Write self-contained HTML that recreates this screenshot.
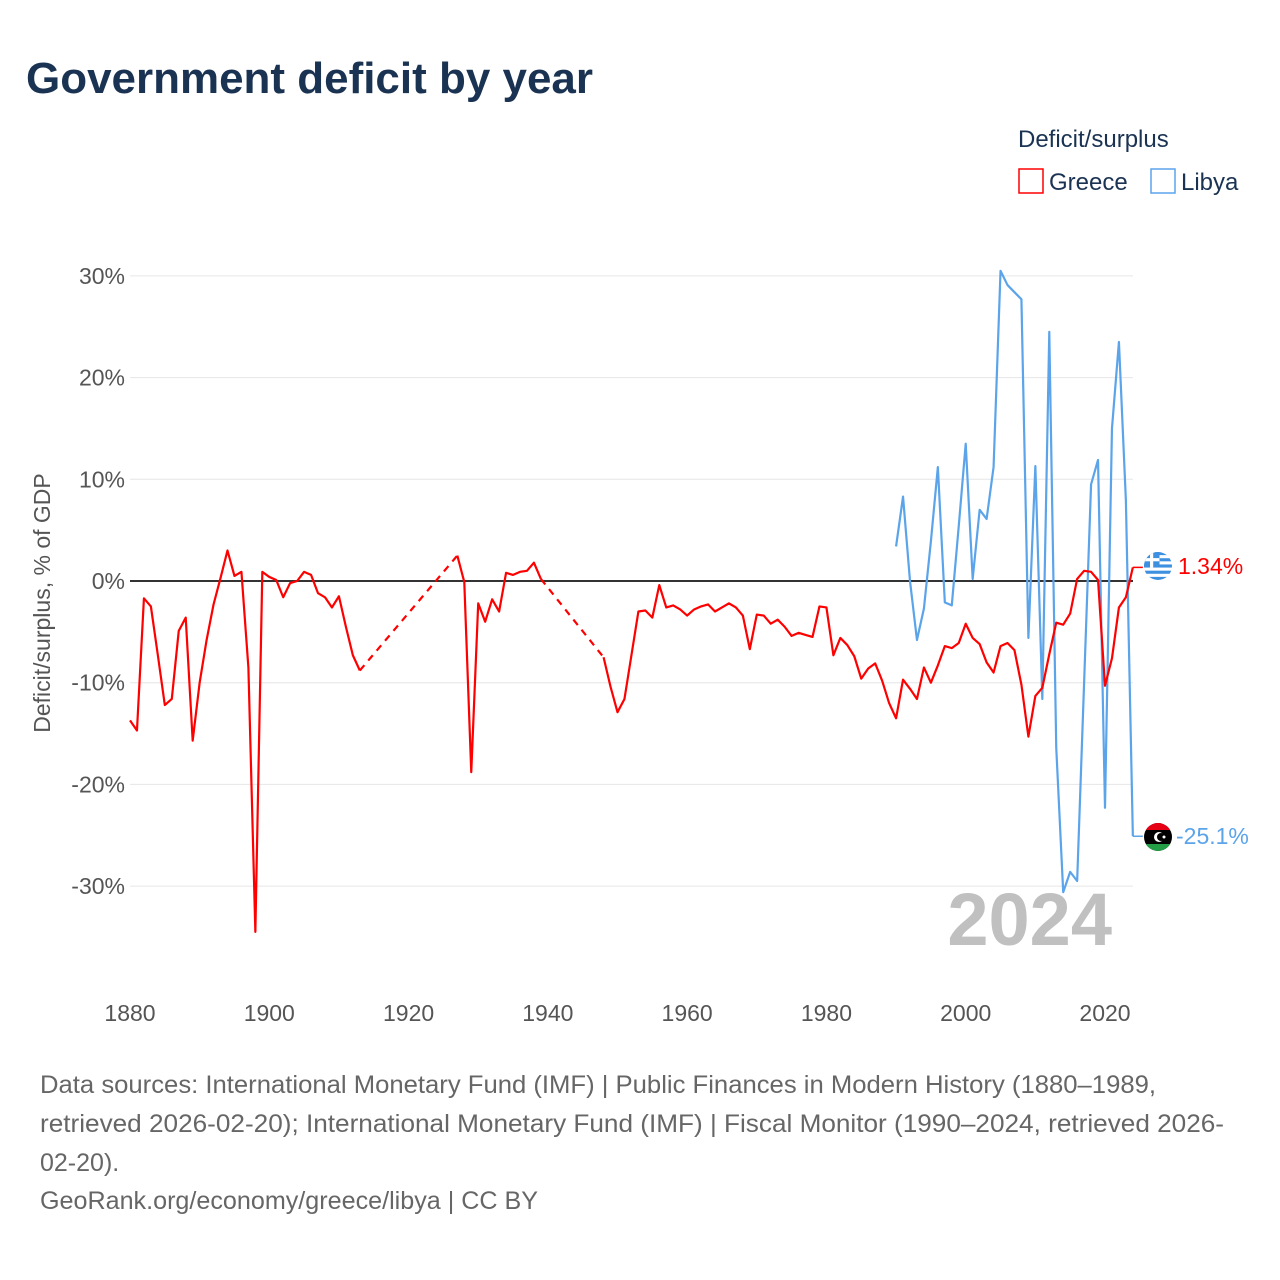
<!DOCTYPE html>
<html><head><meta charset="utf-8"><style>
body{margin:0;background:#fff;font-family:"Liberation Sans",sans-serif;}
#wrap{position:relative;width:1280px;height:1280px;overflow:hidden;}
</style></head><body>
<div id="wrap">
<svg id="svg" width="1280" height="1280" xmlns="http://www.w3.org/2000/svg">
<defs>
<clipPath id="cg"><circle cx="1158" cy="566" r="14"/></clipPath>
<clipPath id="cl"><circle cx="1158" cy="837" r="14"/></clipPath>
</defs>
<text x="26" y="93" font-size="44" font-weight="bold" fill="#1b3352" textLength="567" lengthAdjust="spacingAndGlyphs">Government deficit by year</text>
<text x="1018" y="147" font-size="24" fill="#1b3352">Deficit/surplus</text>
<g><rect x="1019" y="169" width="24" height="24" fill="none" stroke="#ff0000" stroke-width="1.5"/><text x="1049" y="190" font-size="24" fill="#1b3352">Greece</text></g>
<g><rect x="1151" y="169" width="24" height="24" fill="none" stroke="#5ba4ea" stroke-width="1.5"/><text x="1181" y="190" font-size="24" fill="#1b3352">Libya</text></g>
<text transform="translate(50,603) rotate(-90)" text-anchor="middle" font-size="23" fill="#555">Deficit/surplus, % of GDP</text>
<g id="grid"></g><g id="yt"></g><g id="xt"></g>
<text x="1112" y="945" text-anchor="end" font-size="74" font-weight="bold" fill="#c0c0c0">2024</text>
<g id="series"></g>
<g font-size="25" fill="#666">
<text x="40" y="1093" textLength="1116" lengthAdjust="spacingAndGlyphs">Data sources: International Monetary Fund (IMF) | Public Finances in Modern History (1880–1989,</text>
<text x="40" y="1132" textLength="1184" lengthAdjust="spacingAndGlyphs">retrieved 2026-02-20); International Monetary Fund (IMF) | Fiscal Monitor (1990–2024, retrieved 2026-</text>
<text x="40" y="1171">02-20).</text>
<text x="40" y="1209" textLength="498" lengthAdjust="spacingAndGlyphs">GeoRank.org/economy/greece/libya | CC BY</text>
</g>
</svg></div>
<script>
const greeceYears=[1880,1881,1882,1883,1884,1885,1886,1887,1888,1889,1890,1891,1892,1893,1894,1895,1896,1897,1898,1899,1900,1901,1902,1903,1904,1905,1906,1907,1908,1909,1910,1911,1912,1913,1927,1928,1929,1930,1931,1932,1933,1934,1935,1936,1937,1938,1939,1948,1949,1950,1951,1952,1953,1954,1955,1956,1957,1958,1959,1960,1961,1962,1963,1964,1965,1966,1967,1968,1969,1970,1971,1972,1973,1974,1975,1976,1977,1978,1979,1980,1981,1982,1983,1984,1985,1986,1987,1988,1989,1990,1991,1992,1993,1994,1995,1996,1997,1998,1999,2000,2001,2002,2003,2004,2005,2006,2007,2008,2009,2010,2011,2012,2013,2014,2015,2016,2017,2018,2019,2020,2021,2022,2023,2024];
const greeceValues=[-13.7,-14.7,-1.7,-2.5,-7.3,-12.2,-11.6,-4.9,-3.6,-15.7,-10,-5.8,-2.3,0.3,3.0,0.5,0.9,-8.5,-34.5,0.9,0.4,0.1,-1.6,-0.2,0,0.9,0.6,-1.2,-1.6,-2.6,-1.5,-4.5,-7.3,-8.8,2.5,-0.1,-18.8,-2.2,-4.0,-1.8,-3.0,0.8,0.6,0.9,1.0,1.8,0.2,-7.5,-10.4,-12.9,-11.6,-7.3,-3.0,-2.9,-3.6,-0.4,-2.6,-2.4,-2.8,-3.4,-2.8,-2.5,-2.3,-3.0,-2.6,-2.2,-2.6,-3.4,-6.7,-3.3,-3.4,-4.2,-3.8,-4.5,-5.4,-5.1,-5.3,-5.5,-2.5,-2.6,-7.3,-5.6,-6.3,-7.4,-9.6,-8.6,-8.1,-9.8,-12.0,-13.5,-9.7,-10.6,-11.6,-8.5,-10.0,-8.3,-6.4,-6.6,-6.1,-4.2,-5.6,-6.2,-8.0,-9.0,-6.4,-6.1,-6.8,-10.2,-15.3,-11.3,-10.5,-7.2,-4.1,-4.3,-3.2,0.2,1.0,0.9,0.1,-10.3,-7.6,-2.6,-1.6,1.34];
const libyaYears=[1990,1991,1992,1993,1994,1995,1996,1997,1998,1999,2000,2001,2002,2003,2004,2005,2006,2007,2008,2009,2010,2011,2012,2013,2014,2015,2016,2017,2018,2019,2020,2021,2022,2023,2024];
const libyaValues=[3.4,8.3,0,-5.8,-2.7,3.9,11.2,-2.1,-2.4,5.4,13.5,0.2,7.0,6.1,11.2,30.5,29.1,28.4,27.7,-5.6,11.3,-11.6,24.5,-16.4,-30.6,-28.6,-29.5,-10,9.5,11.9,-22.3,15.0,23.5,7.9,-25.1];
const yTicks=[30,20,10,0,-10,-20,-30];
const yTickLabels=["30%","20%","10%","0%","-10%","-20%","-30%"];
const xTicks=[1880,1900,1920,1940,1960,1980,2000,2020];

const NS="http://www.w3.org/2000/svg";
const X=y=>130+(y-1880)*(1105-130)/140;
const Y=v=>581-v*10.17;
function mk(tag,attrs,parent){const e=document.createElementNS(NS,tag);for(const k in attrs)e.setAttribute(k,attrs[k]);parent.appendChild(e);return e;}
const grid=document.getElementById('grid'),yt=document.getElementById('yt'),xt=document.getElementById('xt'),ser=document.getElementById('series');
yTicks.forEach((t,i)=>{
  if(t!==0){const l=mk('line',{x1:130,x2:1133,y1:Y(t),y2:Y(t),stroke:'#e6e6e6','stroke-width':1},grid);
  
  }
  const tx=mk('text',{x:125,y:Y(t)+8,'text-anchor':'end','font-size':23,fill:'#555'},yt);
  tx.textContent=yTickLabels[i];
  
  
});
xTicks.forEach(t=>{
  const tx=mk('text',{x:X(t),y:1021,'text-anchor':'middle','font-size':23,fill:'#555'},xt);
  tx.textContent=t;
  
  
});
const zl=mk('line',{x1:130,x2:1133,y1:Y(0),y2:Y(0),stroke:'#333','stroke-width':2},grid);



function drawSeries(years,vals,color,name){
  const g=mk('g',{},ser);
  
  
  let seg=[];
  const flush=()=>{if(seg.length>1){const p=mk('polyline',{points:seg.join(' '),fill:'none',stroke:color,'stroke-width':2.2,'stroke-linejoin':'round'},g);
    
    }seg=[];};
  for(let i=0;i<years.length;i++){
    if(i>0&&years[i]-years[i-1]>1){
      flush();
      const d=mk('line',{x1:X(years[i-1]),y1:Y(vals[i-1]),x2:X(years[i]),y2:Y(vals[i]),stroke:color,'stroke-width':2.2,'stroke-dasharray':'7,6'},g);
      
      
    }
    seg.push(X(years[i])+','+Y(vals[i]));
  }
  flush();
  const ly=years[years.length-1],lv=vals[vals.length-1];
  mk('line',{x1:X(ly),y1:Y(lv),x2:X(ly)+10,y2:Y(lv),stroke:color,'stroke-width':1.5},g);
}
drawSeries(libyaYears,libyaValues,'#5ba4ea','libya');
drawSeries(greeceYears,greeceValues,'#ff0000','greece');

function flagGreece(cx,cy){
  const g=mk('g',{'clip-path':'url(#cg)'},ser);
  
  
  mk('rect',{x:cx-14,y:cy-14,width:28,height:28,fill:'#fff'},g);
  for(let i=0;i<9;i+=2)mk('rect',{x:cx-14,y:cy-14+i*28/9,width:28,height:28/9,fill:'#3d8fe0'},g);
  mk('rect',{x:cx-14,y:cy-14,width:15.5,height:15.5,fill:'#3d8fe0'},g);
  mk('rect',{x:cx-8,y:cy-14,width:3.2,height:15.5,fill:'#fff'},g);
  mk('rect',{x:cx-14,y:cy-7.9,width:15.5,height:3.2,fill:'#fff'},g);
}
function flagLibya(cx,cy){
  const g=mk('g',{'clip-path':'url(#cl)'},ser);
  
  
  mk('rect',{x:cx-14,y:cy-14,width:28,height:28,fill:'#000'},g);
  mk('rect',{x:cx-14,y:cy-14,width:28,height:7,fill:'#e70013'},g);
  mk('rect',{x:cx-14,y:cy+7,width:28,height:7,fill:'#239e46'},g);
  mk('circle',{cx:cx+1,cy:cy,r:5,fill:'#fff'},g);
  mk('circle',{cx:cx+3,cy:cy,r:4,fill:'#000'},g);
  mk('circle',{cx:cx+6,cy:cy,r:1.5,fill:'#fff'},g);
}
flagGreece(1158,566);
flagLibya(1158,837);
const lg=mk('text',{x:1178,y:574,'font-size':23,fill:'#ff0000'},ser);
lg.textContent='1.34%';


const ll=mk('text',{x:1176,y:844,'font-size':23,fill:'#5ba4ea'},ser);
ll.textContent='-25.1%';


</script>
</body></html>
